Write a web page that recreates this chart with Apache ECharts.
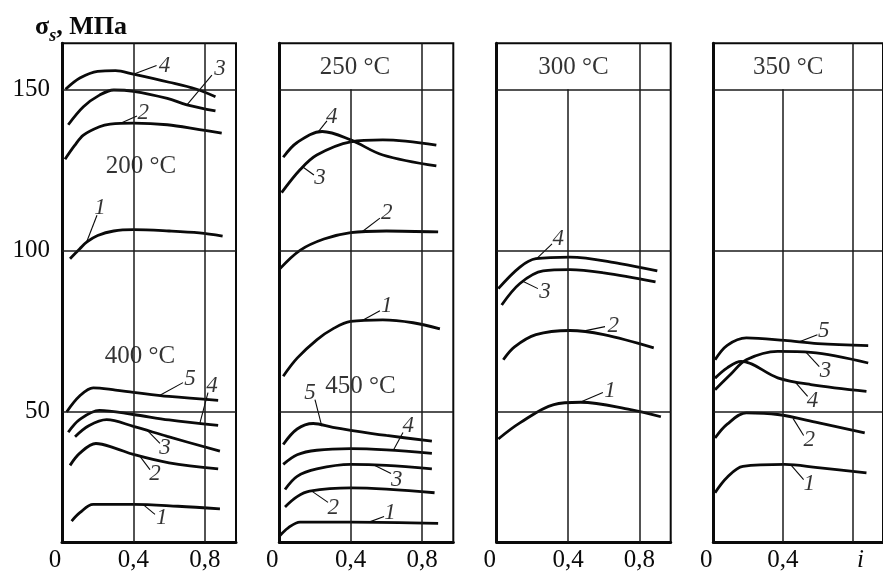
<!DOCTYPE html>
<html><head><meta charset="utf-8">
<script src="https://cdn.jsdelivr.net/npm/echarts@6/dist/echarts.min.js"></script>
<style>html,body{margin:0;padding:0;background:#fff}#c{width:883px;height:573px}</style>
</head><body><div id="c"></div>
<script>
// ---- axes / ticks ----
const yTicks = [50, 100, 150];
const xTicks = [0, 0.4, 0.8];
const xTickLabels = ['0', '0,4', '0,8'];
const xTickLabelsLast = ['0', '0,4', 'i'];
const yTitle = ['σ', 's', ', МПа'];

// ---- panel 1: 200 °C ----
const t200_1 = [[0.045,97.4],[0.1,100.5],[0.14,102.6],[0.2,104.6],[0.29,106.0],[0.4,106.4],[0.6,106.0],[0.77,105.4],[0.9,104.4]];
const t200_2 = [[0.017,128.3],[0.07,132.5],[0.12,135.8],[0.21,138.4],[0.27,139.2],[0.4,139.5],[0.59,139.0],[0.77,137.5],[0.895,136.4]];
const t200_3 = [[0.035,139.0],[0.12,144.6],[0.21,148.2],[0.29,149.8],[0.4,149.4],[0.59,147.2],[0.7,145.2],[0.86,143.3]];
const t200_4 = [[0.02,150.0],[0.1,153.5],[0.2,155.6],[0.3,155.8],[0.4,154.7],[0.6,152.2],[0.75,150.1],[0.86,147.7]];
// ---- panel 1: 400 °C ----
const t400_1 = [[0.054,15.9],[0.1,18.5],[0.175,21.1],[0.4,21.1],[0.65,20.5],[0.885,19.7]];
const t400_2 = [[0.045,33.2],[0.1,37.0],[0.19,40.0],[0.3,38.5],[0.4,36.6],[0.6,34.0],[0.875,32.1]];
const t400_3 = [[0.073,42.1],[0.15,45.5],[0.25,47.4],[0.4,45.3],[0.59,42.2],[0.885,37.6]];
const t400_4 = [[0.035,43.5],[0.1,47.5],[0.21,50.3],[0.4,49.0],[0.6,47.3],[0.875,45.6]];
const t400_5 = [[0.026,49.8],[0.1,54.8],[0.175,57.3],[0.3,56.6],[0.4,55.9],[0.6,54.6],[0.875,53.4]];
// ---- panel 2: 250 °C ----
const t250_1 = [[0.022,60.9],[0.1,66.5],[0.21,72.2],[0.3,75.6],[0.4,77.9],[0.58,78.4],[0.75,77.5],[0.9,75.6]];
const t250_2 = [[0.004,94.3],[0.116,100.0],[0.25,103.5],[0.4,105.5],[0.6,106.0],[0.89,105.7]];
const t250_3 = [[0.013,117.9],[0.116,125.0],[0.21,129.6],[0.4,133.7],[0.58,134.3],[0.88,132.7]];
const t250_4 = [[0.022,128.9],[0.1,133.5],[0.24,136.9],[0.4,134.3],[0.58,129.6],[0.88,126.2]];
// ---- panel 2: 450 °C ----
const t450_1 = [[0.0,11.2],[0.05,13.8],[0.116,15.6],[0.4,15.6],[0.89,15.2]];
const t450_2 = [[0.032,20.3],[0.1,23.5],[0.17,25.2],[0.4,26.2],[0.87,24.7]];
const t450_3 = [[0.032,25.7],[0.1,29.8],[0.21,32.1],[0.4,33.5],[0.6,33.2],[0.855,32.1]];
const t450_4 = [[0.022,33.5],[0.1,36.5],[0.21,37.9],[0.4,38.4],[0.6,38.0],[0.855,36.9]];
const t450_5 = [[0.022,39.7],[0.1,44.5],[0.19,46.2],[0.3,45.0],[0.4,44.1],[0.6,42.5],[0.855,40.7]];
// ---- panel 3: 300 °C ----
const t300_1 = [[0.009,41.4],[0.13,46.4],[0.32,52.1],[0.47,52.8],[0.75,50.5],[0.92,48.3]];
const t300_2 = [[0.037,66.0],[0.1,70.0],[0.22,73.8],[0.41,75.1],[0.6,73.8],[0.88,69.7]];
const t300_3 = [[0.028,83.0],[0.13,89.7],[0.26,93.6],[0.41,94.0],[0.6,93.0],[0.89,90.2]];
const t300_4 = [[0.009,88.1],[0.13,94.8],[0.22,97.4],[0.41,97.9],[0.69,95.9],[0.9,93.6]];
// ---- panel 4: 350 °C ----
const t350_1 = [[0.01,24.7],[0.08,29.5],[0.17,32.9],[0.41,33.5],[0.6,32.5],[0.88,30.9]];
const t350_2 = [[0.01,41.7],[0.08,46.0],[0.19,49.5],[0.37,49.0],[0.6,46.5],[0.87,43.3]];
const t350_3 = [[0.01,56.7],[0.1,61.5],[0.19,66.0],[0.37,68.6],[0.56,68.3],[0.89,65.0]];
const t350_4 = [[0.01,60.3],[0.08,63.5],[0.16,65.5],[0.37,60.4],[0.56,58.3],[0.88,56.2]];
const t350_5 = [[0.01,66.0],[0.08,70.5],[0.19,72.8],[0.41,72.0],[0.6,71.0],[0.89,70.4]];

// ---- curve number callouts: [text, point on curve, leader tip, text centre] ----
const callouts1 = [
  ['4',[0.4,154.7],[0.53,157.4],[0.575,157.2]],
  ['3',[0.70,145.2],[0.84,154.4],[0.885,156.2]],
  ['2',[0.325,139.4],[0.42,141.7],[0.455,142.8]],
  ['1',[0.138,102.6],[0.196,110.9],[0.213,113.2]],
  ['5',[0.549,55.0],[0.678,58.9],[0.717,59.9]],
  ['4',[0.773,46.4],[0.818,55.8],[0.84,57.8]],
  ['3',[0.475,44.2],[0.549,40.0],[0.577,38.6]],
  ['2',[0.437,36.0],[0.493,31.9],[0.521,30.4]],
  ['1',[0.455,21.0],[0.521,18.0],[0.559,16.9]]
];
const callouts2 = [
  ['4',[0.218,136.8],[0.267,140.2],[0.294,141.5]],
  ['3',[0.134,125.8],[0.194,123.4],[0.228,122.4]],
  ['2',[0.462,105.7],[0.564,110.0],[0.602,111.7]],
  ['1',[0.462,78.1],[0.564,81.2],[0.602,82.6]],
  ['5',[0.238,45.4],[0.20,53.6],[0.172,55.7]],
  ['4',[0.639,37.9],[0.693,43.4],[0.723,45.3]],
  ['3',[0.527,33.4],[0.626,30.7],[0.658,28.8]],
  ['2',[0.182,25.2],[0.273,21.7],[0.303,20.0]],
  ['1',[0.499,15.5],[0.587,17.3],[0.62,18.5]]
];
const callouts3 = [
  ['4',[0.224,97.4],[0.31,102.0],[0.345,103.6]],
  ['3',[0.149,90.3],[0.231,88.1],[0.27,87.2]],
  ['2',[0.485,74.9],[0.607,76.3],[0.653,76.4]],
  ['1',[0.467,52.8],[0.595,55.8],[0.635,56.2]]
];
const callouts4 = [
  ['5',[0.495,71.6],[0.598,73.8],[0.635,74.8]],
  ['3',[0.532,68.4],[0.609,63.9],[0.644,62.4]],
  ['4',[0.467,59.3],[0.542,54.6],[0.57,53.1]],
  ['2',[0.458,47.8],[0.519,42.5],[0.551,41.2]],
  ['1',[0.448,33.2],[0.519,28.8],[0.551,27.3]]
];
// ---- temperature texts: [text, centre] ----
const temps1 = [['200 °C',[0.443,126.0]],['400 °C',[0.437,67.1]]];
const temps2 = [['250 °C',[0.424,156.9]],['450 °C',[0.455,57.8]]];
const temps3 = [['300 °C',[0.43,156.9]]];
const temps4 = [['350 °C',[0.43,156.9]]];

// ---- build ----
const YMIN = 9.4, YMAX = 164.3, XMAX = 0.975;
const panelCurves = [
  [t200_1,t200_2,t200_3,t200_4,t400_1,t400_2,t400_3,t400_4,t400_5],
  [t250_1,t250_2,t250_3,t250_4,t450_1,t450_2,t450_3,t450_4,t450_5],
  [t300_1,t300_2,t300_3,t300_4],
  [t350_1,t350_2,t350_3,t350_4,t350_5]
];
const panelCallouts = [callouts1, callouts2, callouts3, callouts4];
const panelTemps = [temps1, temps2, temps3, temps4];
const lefts = [62, 279.3, 496.7, 713.3];
const INK = '#0a0a0a';
const FONT = 'Liberation Serif';

const grid = lefts.map(l => ({left: l, top: 43.3, width: 174, height: 499.2, show: true,
  borderColor: INK, borderWidth: 2, backgroundColor: 'transparent'}));

const xAxis = lefts.map((l, i) => ({
  gridIndex: i, type: 'value', min: 0, max: XMAX, interval: 0.4,
  splitLine: {show: false}, axisTick: {show: false},
  axisLine: {show: true, onZero: false, lineStyle: {color: INK, width: 3}},
  axisLabel: {
    margin: 6, fontSize: 25, fontFamily: FONT, color: INK, showMaxLabel: false,
    formatter: v => {
      const k = xTicks.findIndex(t => Math.abs(t - v) < 1e-6);
      if (k < 0) return '';
      const s = (i === 3 ? xTickLabelsLast : xTickLabels)[k];
      if (s === '0') return '{z|0}';
      if (s === 'i') return '{it|i}';
      return s;
    },
    rich: {
      z: {fontSize: 25, fontFamily: FONT, color: INK, padding: [0, 14, 0, 0]},
      it: {fontSize: 25, fontFamily: FONT, color: INK, fontStyle: 'italic', padding: [0, 0, 0, 16]}
    }
  }
}));

const yAxis = lefts.map((l, i) => ({
  gridIndex: i, type: 'value', min: YMIN, max: YMAX,
  splitLine: {show: false}, axisTick: {show: false},
  axisLine: {show: true, onZero: false, lineStyle: {color: INK, width: 3}},
  axisLabel: {show: i === 0, customValues: yTicks, margin: 12, fontSize: 25, fontFamily: FONT, color: INK}
}));

const series = [];
lefts.forEach((l, i) => {
  const ml = yTicks.map(v => ({yAxis: v}));
  if (i === 0) { ml.push({xAxis: xTicks[1]}); }
  else { ml.push([{coord: [xTicks[1], YMIN]}, {coord: [xTicks[1], yTicks[2]]}]); }
  ml.push({xAxis: xTicks[2]});
  series.push({
    type: 'line', xAxisIndex: i, yAxisIndex: i, data: [], silent: true, z: 1,
    markLine: {symbol: 'none', silent: true, animation: false, label: {show: false},
      lineStyle: {color: '#1a1a1a', width: 1.5, type: 'solid'}, data: ml}
  });
  panelCurves[i].forEach(c => series.push({
    type: 'line', xAxisIndex: i, yAxisIndex: i, data: c, smooth: 0.35, showSymbol: false,
    silent: true, z: 3, lineStyle: {color: INK, width: 2.8}
  }));
  panelCallouts[i].forEach(c => series.push({
    type: 'line', xAxisIndex: i, yAxisIndex: i, data: [c[1], c[2]], showSymbol: false,
    silent: true, z: 3, lineStyle: {color: INK, width: 1.1}
  }));
  series.push({
    type: 'scatter', xAxisIndex: i, yAxisIndex: i, symbolSize: 1, silent: true, z: 4,
    itemStyle: {color: 'transparent'},
    data: panelCallouts[i].map(c => ({name: c[0], value: c[3]})),
    label: {show: true, position: 'inside', formatter: '{b}', fontSize: 23, fontStyle: 'italic',
      fontFamily: FONT, color: '#000'}
  });
  series.push({
    type: 'scatter', xAxisIndex: i, yAxisIndex: i, symbolSize: 1, silent: true, z: 4,
    itemStyle: {color: 'transparent'},
    data: panelTemps[i].map(c => ({name: c[0], value: c[1]})),
    label: {show: true, position: 'inside', formatter: '{b}', fontSize: 25,
      fontFamily: FONT, color: '#000', backgroundColor: 'transparent'}
  });
});

const chart = echarts.init(document.getElementById('c'), null, {renderer: 'canvas'});
chart.setOption({
  animation: false,
  backgroundColor: '#fff',
  title: {
    left: 30, top: 9,
    text: '{a|' + yTitle[0] + '}{b|' + yTitle[1] + '}{a|' + yTitle[2] + '}',
    textStyle: {rich: {
      a: {fontSize: 26, fontFamily: FONT, color: INK, fontWeight: 'bold', verticalAlign: 'bottom', padding: [0, 0, 5, 0]},
      b: {fontSize: 18, fontFamily: FONT, color: INK, fontStyle: 'italic', fontWeight: 'bold', verticalAlign: 'bottom'}
    }}
  },
  grid, xAxis, yAxis, series
});
</script></body></html>
